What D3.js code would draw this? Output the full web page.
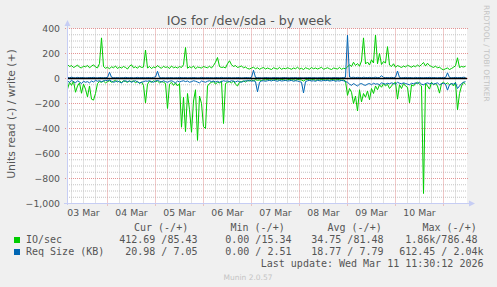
<!DOCTYPE html>
<html>
<head>
<meta charset="utf-8">
<script src="https://cdn.jsdelivr.net/npm/d3@7"></script>
<style>
	body { margin: 0; background: #f0f0f0; }
	svg { display: block; }
	text { font-family: 'DejaVu Sans', sans-serif; }
	.mono { font-family: 'DejaVu Sans Mono', monospace; white-space: pre; }
</style>
</head>
<body>
<script>
// hourly samples, Mar 3 04:00 UTC .. Mar 11 11:00 UTC
const ioWrite = [
	112, 95, 104, 88, 96, 108, 90, 84, 100, 93,
	105, 86, 98, 110, 92, 85, 120, 325, 96, 82,
	90, 78, 94, 86, 100, 80, 92, 84, 96, 88,
	76, 98, 110, 86, 94, 82, 100, 88, 92, 228,
	84, 96, 80, 92, 86, 104, 90, 82, 98, 88,
	94, 80, 100, 86, 92, 84, 96, 88, 110, 248,
	82, 94, 86, 100, 78, 92, 88, 84, 96, 90,
	86, 98, 84, 104, 130, 168, 96, 88, 92, 84,
	118, 142, 110, 96, 104, 88, 94, 100, 86, 92,
	80, 76, 84, 90, 78, 86, 74, 82, 88, 76,
	84, 78, 72, 86, 80, 76, 88, 74, 82, 78,
	86, 80, 74, 84, 78, 90, 76, 82, 72, 86,
	80, 74, 88, 78, 84, 76, 82, 90, 74, 80,
	86, 78, 72, 84, 80, 76, 88, 74, 82, 78,
	92, 110, 96, 130, 104, 120, 98, 140, 325, 116,
	132, 108, 150, 124, 348, 118, 200, 112, 136, 124,
	255, 108, 96, 118, 90, 104, 96, 88, 100, 92,
	106, 98, 90, 102, 94, 108, 96, 112, 128, 100,
	122, 104, 96, 88, 100, 84, 92, 76, 70, 78,
	84, 72, 80, 90, 102, 166, 88, 96, 92, 98
];
const ioRead = [
	85, 30, 55, 20, 110, 60, 35, 118, 45, 85,
	147, 60, 165, 173, 120, 40, 25, 30, 20, 35,
	25, 18, 30, 22, 15, 28, 20, 32, 18, 24,
	30, 20, 26, 18, 35, 22, 40, 28, 55, 195,
	45, 22, 30, 18, 26, 20, 35, 24, 30, 40,
	240, 45, 30, 55, 35, 60, 40, 390, 150, 425,
	120, 250, 430, 180, 90, 495, 140, 200, 385, 400,
	60, 40, 30, 25, 45, 30, 35, 20, 360, 40,
	30, 25, 35, 20, 45, 60, 30, 25, 20, 28,
	15, 20, 12, 18, 10, 14, 12, 16, 10, 12,
	8, 12, 10, 14, 8, 10, 12, 8, 10, 14,
	10, 8, 12, 10, 14, 8, 10, 12, 20, 10,
	8, 12, 10, 8, 14, 10, 12, 8, 10, 12,
	10, 14, 8, 10, 12, 8, 10, 14, 12, 20,
	135, 80, 110, 200, 140, 260, 90, 187, 120, 150,
	100, 170, 80, 120, 60, 90, 50, 70, 40, 60,
	45, 80, 60, 40, 30, 165, 50, 80, 40, 60,
	70, 195, 50, 60, 40, 30, 45, 60, 920, 40,
	60, 85, 30, 50, 40, 60, 117, 40, 30, 45,
	35, 50, 40, 60, 30, 250, 120, 60, 30, 45
];
const reqWrite = [
	8, 6, 10, 7, 5, 9, 6, 8, 7, 5,
	6, 8, 7, 9, 6, 5, 8, 7, 6, 8,
	8, 50, 10, 7, 6, 8, 5, 7, 6, 9,
	7, 6, 8, 5, 7, 9, 6, 8, 7, 6,
	8, 7, 6, 9, 12, 58, 8, 6, 7, 5,
	7, 6, 8, 5, 7, 6, 9, 7, 6, 8,
	5, 7, 6, 8, 7, 5, 6, 9, 7, 6,
	8, 6, 7, 5, 8, 7, 6, 9, 6, 7,
	6, 8, 5, 7, 6, 8, 7, 5, 6, 8,
	7, 6, 9, 66, 8, 6, 7, 5, 6, 8,
	7, 6, 5, 8, 6, 7, 5, 6, 8, 7,
	6, 5, 7, 6, 8, 5, 7, 6, 5, 7,
	6, 8, 5, 7, 6, 5, 7, 6, 8, 5,
	7, 6, 5, 8, 6, 7, 5, 6, 8, 10,
	346, 12, 8, 10, 7, 9, 8, 6, 10, 8,
	7, 9, 6, 8, 10, 7, 8, 22, 9, 7,
	8, 6, 9, 7, 10, 60, 8, 6, 7, 9,
	6, 8, 7, 5, 9, 6, 8, 7, 6, 8,
	7, 9, 6, 8, 7, 5, 8, 6, 9, 7,
	45, 8, 6, 7, 9, 6, 8, 7, 10, 8
];
const reqRead = [
	20, 30, 15, 25, 35, 18, 28, 40, 22, 30,
	25, 35, 20, 28, 15, 22, 18, 25, 20, 15,
	18, 12, 22, 30, 25, 20, 28, 35, 22, 18,
	25, 20, 30, 22, 18, 28, 35, 30, 25, 20,
	22, 18, 25, 30, 20, 15, 22, 28, 18, 25,
	30, 22, 18, 25, 35, 20, 28, 22, 18, 25,
	20, 30, 25, 18, 22, 28, 35, 20, 25, 30,
	22, 18, 25, 20, 28, 22, 30, 25, 18, 22,
	20, 25, 18, 22, 28, 20, 25, 30, 22, 18,
	20, 15, 22, 18, 25, 107, 30, 20, 18, 22,
	18, 15, 20, 12, 18, 22, 15, 20, 18, 15,
	20, 18, 15, 22, 18, 20, 25, 30, 115, 25,
	18, 15, 20, 18, 22, 15, 18, 20, 15, 18,
	15, 20, 18, 15, 22, 18, 20, 15, 18, 25,
	30, 45, 55, 40, 50, 60, 45, 40, 50, 55,
	45, 40, 50, 38, 45, 42, 50, 35, 40, 45,
	38, 42, 35, 40, 45, 30, 38, 42, 35, 40,
	45, 50, 38, 42, 35, 40, 30, 45, 50, 40,
	35, 42, 38, 45, 40, 35, 50, 42, 38, 45,
	93, 50, 40, 45, 35, 80, 60, 40, 30, 25
];

const yTicks = [-1000, -800, -600, -400, -200, 0, 200, 400];
const seriesNames = ['IO/sec', 'Req Size (KB)'];
const seriesColors = ['#00cc00', '#0066b3'];
const colHeads = ['Cur (-/+)', 'Min (-/+)', 'Avg (-/+)', 'Max (-/+)'];
const curText = ['412.69 /85.43', '20.98 / 7.05'];
const minText = ['0.00 /15.34', '0.00 / 2.51'];
const avgText = ['34.75 /81.48', '18.77 / 7.79'];
const maxText = ['1.86k/786.48', '612.45 / 2.04k'];

const W = 497, H = 287;
const start = new Date(Date.UTC(2026, 2, 3, 4));
const end = new Date(Date.UTC(2026, 2, 11, 12));
const times = ioWrite.map((d, i) => d3.utcHour.offset(start, i));

const x = d3.scaleUtc().domain([start, end]).range([67, 467]);
const y = d3.scaleLinear().domain([-1000, 400]).range([203.5, 28.5]);

const svg = d3.select('body').append('svg').attr('width', W).attr('height', H);
svg.append('rect').attr('width', W).attr('height', H).attr('fill', '#f0f0f0');

// canvas
svg.append('rect')
	.attr('x', x(start)).attr('y', y(400))
	.attr('width', x(end) - x(start)).attr('height', y(-1000) - y(400))
	.attr('fill', '#ffffff');

// grid
const grid = svg.append('g').attr('fill', 'none').attr('stroke-width', 1).attr('stroke-dasharray', '1,1');
const dayLines = d3.utcDay.range(start, end);
const sixLines = d3.utcHour.every(6).range(start, end).filter((d) => d.getUTCHours() !== 0);

grid.selectAll('.vminor').data(sixLines).enter().append('line')
	.attr('x1', (d) => Math.round(x(d)) + 0.5).attr('x2', (d) => Math.round(x(d)) + 0.5)
	.attr('y1', y(400)).attr('y2', y(-1000))
	.attr('stroke', '#c4c4c4');
grid.selectAll('.hminor').data(d3.range(-1000, 401, 50).filter((v) => v % 200 !== 0)).enter().append('line')
	.attr('x1', x(start)).attr('x2', x(end))
	.attr('y1', (d) => y(d)).attr('y2', (d) => y(d))
	.attr('stroke', '#c4c4c4');
grid.selectAll('.vmajor').data(dayLines).enter().append('line')
	.attr('x1', (d) => Math.round(x(d)) + 0.5).attr('x2', (d) => Math.round(x(d)) + 0.5)
	.attr('y1', y(400)).attr('y2', y(-1000) + 2)
	.attr('stroke', '#e39494');
grid.selectAll('.hmajor').data(yTicks).enter().append('line')
	.attr('x1', x(start) - 2).attr('x2', x(end) + 2)
	.attr('y1', (d) => y(d)).attr('y2', (d) => y(d))
	.attr('stroke', '#e39494');

// series
const lineUp = (vals) => d3.line().x((d, i) => x(times[i]) + 0.5).y((d) => y(d))(vals);
const lineDown = (vals) => d3.line().x((d, i) => x(times[i]) + 0.5).y((d) => y(-d))(vals);

const plot = svg.append('g').attr('fill', 'none').attr('stroke-width', 1);
plot.append('path').attr('d', lineDown(ioRead)).attr('stroke', seriesColors[0]);
plot.append('path').attr('d', lineUp(ioWrite)).attr('stroke', seriesColors[0]);
plot.append('path').attr('d', lineDown(reqRead)).attr('stroke', seriesColors[1]);
plot.append('path').attr('d', lineUp(reqWrite)).attr('stroke', seriesColors[1]);

// zero rule
svg.append('line')
	.attr('x1', x(start)).attr('x2', x(end))
	.attr('y1', y(0)).attr('y2', y(0))
	.attr('stroke', '#000').attr('stroke-width', 1.4);

// axes lines + arrows
const axisCol = '#c6cdf4';
svg.append('line').attr('x1', 67.5).attr('x2', 67.5).attr('y1', 205).attr('y2', 24)
	.attr('stroke', axisCol);
svg.append('line').attr('x1', 64).attr('x2', 470).attr('y1', 203.5).attr('y2', 203.5)
	.attr('stroke', axisCol);
svg.append('path').attr('d', 'M64.5,26 L67.5,20 L70.5,26 Z').attr('fill', axisCol);
svg.append('path').attr('d', 'M469,200.5 L475,203.5 L469,206.5 Z').attr('fill', axisCol);

// tick labels
const yAxis = svg.append('g')
	.attr('transform', `translate(${67}, 0)`)
	.call(d3.axisLeft(y).tickValues(yTicks).tickSize(0).tickPadding(7));
yAxis.select('.domain').remove();
yAxis.selectAll('text').attr('font-size', '9.3px').attr('fill', '#555')
	.attr('font-family', 'DejaVu Sans');

const noons = d3.utcDay.range(d3.utcDay.floor(start), end)
	.map((d) => d3.utcHour.offset(d, 12))
	.filter((d) => d > start && d < end);
const xAxis = svg.append('g')
	.attr('transform', `translate(0, ${203.5})`)
	.call(d3.axisBottom(x).tickValues(noons).tickFormat(d3.utcFormat('%d %b')).tickSize(0).tickPadding(6));
xAxis.select('.domain').remove();
xAxis.selectAll('text').attr('font-size', '9.3px').attr('fill', '#555')
	.attr('font-family', 'DejaVu Sans');

// titles
svg.append('text').attr('x', 249).attr('y', 24.5).attr('text-anchor', 'middle')
	.attr('font-size', '12.6px').attr('fill', '#555')
	.text('IOs for /dev/sda - by week');
svg.append('text')
	.attr('transform', `translate(${15}, ${114}) rotate(-90)`)
	.attr('text-anchor', 'middle').attr('font-size', '10.8px').attr('fill', '#555')
	.text('Units read (-) / write (+)');
svg.append('text')
	.attr('transform', `translate(${484}, ${5}) rotate(90)`)
	.attr('font-size', '7.5px').attr('fill', '#c4c4c4')
	.text('RRDTOOL / TOBI OETIKER');

// legend
const leg = svg.append('g').attr('class', 'mono').attr('font-size', '10px').attr('fill', '#555');
const headX = [134, 230.5, 327.5, 422.5];
leg.selectAll('.head').data(colHeads).enter().append('text')
	.attr('class', 'mono').attr('x', (d, i) => headX[i]).attr('y', 231).text((d) => d);

seriesNames.forEach((name, r) => {
	const yy = 243 + r * 12;
	svg.append('rect').attr('x', 14).attr('y', yy - 6).attr('width', 6).attr('height', 6)
		.attr('fill', seriesColors[r]);
	leg.append('text').attr('class', 'mono').attr('x', 26).attr('y', yy).text(name);
	leg.append('text').attr('class', 'mono').attr('x', 197.5).attr('y', yy).attr('text-anchor', 'end').text(curText[r]);
	leg.append('text').attr('class', 'mono').attr('x', 291.5).attr('y', yy).attr('text-anchor', 'end').text(minText[r]);
	leg.append('text').attr('class', 'mono').attr('x', 383.5).attr('y', yy).attr('text-anchor', 'end').text(avgText[r]);
	leg.append('text').attr('class', 'mono').attr('x', r === 0 ? 477.5 : 483.5).attr('y', yy).attr('text-anchor', 'end').text(maxText[r]);
});
leg.append('text').attr('class', 'mono').attr('x', 483.5).attr('y', 267).attr('text-anchor', 'end')
	.text('Last update: Wed Mar 11 11:30:12 2026');

svg.append('text').attr('x', 248).attr('y', 279.5).attr('text-anchor', 'middle')
	.attr('font-size', '7.5px').attr('fill', '#c4c4c4')
	.text('Munin 2.0.57');
</script>
</body>
</html>
